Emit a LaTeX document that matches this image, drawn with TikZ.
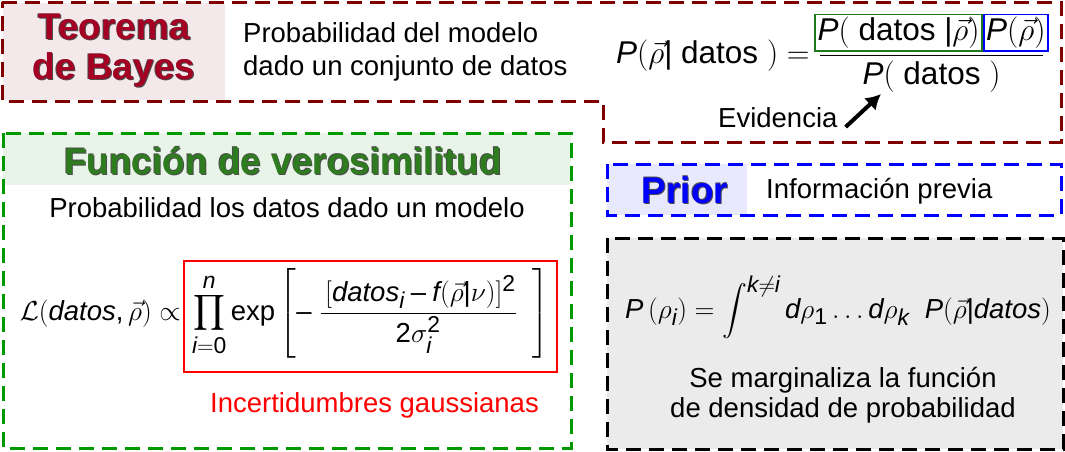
\RequirePackage{fix-cm}
\documentclass[tikz,border=0pt]{standalone}
\usepackage{fontspec}
\setmainfont{Liberation Sans}
\usepackage{amsmath}
\usepackage[italic]{mathastext}
\usepackage{xcolor}
\usepackage{tikz}
\usetikzlibrary{positioning, arrows.meta}

\definecolor{bayesred}{RGB}{128,0,0}
\definecolor{bayestitle}{RGB}{165,0,35}
\definecolor{bayesfill}{RGB}{244,233,234}
\definecolor{likegreen}{RGB}{0,153,0}
\definecolor{liketitle}{RGB}{45,125,30}
\definecolor{likefill}{RGB}{233,244,233}
\definecolor{numgreen}{RGB}{30,120,30}
\definecolor{priorblue}{RGB}{0,0,255}
\definecolor{priorfill}{RGB}{232,232,255}
\definecolor{margfill}{RGB}{235,235,235}

\newcommand{\edged}[1]{\leavevmode
  \rlap{\textcolor{black!70}{\kern-.6pt\raisebox{.6pt}{#1}}}%
  \rlap{\textcolor{black!70}{\kern1pt\raisebox{-1pt}{#1}}}%
  #1}
\newcommand{\dg}[1]{\text{#1}}

\setlength{\fboxsep}{1.5pt}
\setlength{\fboxrule}{1.8pt}

\tikzset{
  dashbox/.style={line width=3pt, dash pattern=on 15pt off 8pt},
  bodytext/.style={font=\fontsize{27.5}{33}\selectfont, inner sep=0pt},
  titletext/.style={font=\fontsize{37}{40}\selectfont\bfseries, inner sep=0pt},
  mathtext/.style={font=\fontsize{27.5}{33}\selectfont, inner sep=0pt},
  redbox/.style={draw=red, line width=2pt, inner xsep=8pt, inner ysep=9pt, text height=50pt, text depth=43pt},
  evarrow/.style={line width=4pt, -{Latex[length=15pt, width=17pt]}}
}

\begin{document}
\begin{tikzpicture}[x=1pt, y=-1pt]
        \useasboundingbox (0,0) rectangle (1065,451);

        \fill[bayesfill] (3,3) rectangle (225,100);
        \draw[bayesred, dashbox] (2,2) -- (1061,2) -- (1061,142) -- (603,142) -- (603,101) -- (2,101) -- cycle;
        \node[titletext, text=bayestitle, align=center] (bayes) at (114,51) {\edged{Teorema}\\\edged{de Bayes}};
        \node[bodytext, align=left, anchor=north west] (bayesdef) at (243,22) {Probabilidad del modelo\\dado un conjunto de datos};
        \node[mathtext, font=\fontsize{31.5}{38}\selectfont, anchor=base west] (bayeseq) at (616,63)
            {$P(\vec{\rho}|\text{ datos }) = \dfrac{\!\fcolorbox{numgreen}{white}{$P(\text{ datos }|\vec{\rho})$}\fcolorbox{priorblue}{white}{$P(\vec{\rho})$}\!}{P(\text{ datos })}$};
        \node[bodytext, anchor=base west] (evid) at (718,127) {Evidencia};
        \coordinate (evtip) at (881,94);
        \draw[evarrow] ([xshift=8pt]evid.base east) -- (evtip);

        \fill[likefill] (3,133) rectangle (571,185);
        \draw[likegreen, dashbox] (3,133) rectangle (571,448);
        \node[titletext, text=liketitle, anchor=base] (liketitle) at (283,174) {\edged{Función de verosimilitud}};
        \node[bodytext, anchor=base] (likedef) at (287,217) {Probabilidad los datos dado un modelo};
        \node[mathtext, redbox, anchor=base west] (prod) at (183,320)
            {$\displaystyle\prod_{i=\dg{0}}^{n}\exp\left[-\;\frac{\,[datos_i - f(\vec{\rho}|\nu)]^{\dg{2}}}{\dg{2}\sigma_i^{\dg{2}}}\;\;\right]$};
        \node[mathtext, anchor=base east] (lik) at ([xshift=-2pt]prod.base west) {$\mathcal{L}(datos,\vec{\rho})\propto$};
        \node[bodytext, text=red, anchor=base west] (gauss) at (210,412) {Incertidumbres gaussianas};

        \fill[priorfill] (607,164) rectangle (747,215);
        \draw[priorblue, dashbox] (607,164) rectangle (1061,215);
        \node[titletext, text=priorblue, anchor=base] (prior) at (685,203) {\edged{Prior}};
        \node[bodytext, anchor=base west] (priordef) at (766,198) {Información previa};

        \fill[margfill] (607,238) rectangle (1063,449);
        \draw[black, dashbox] (607,238) rectangle (1063,449);
        \node[mathtext, anchor=base west] (marg) at (625,318)
            {$P\left(\rho_i\right) = \displaystyle\int^{k\neq i} d\rho_{\dg{1}}\ldots d\rho_k\ \ P(\vec{\rho}|datos)$};
        \node[bodytext, font=\fontsize{27.5}{30}\selectfont, align=center, anchor=base] (margdef) at (843,417)
            {Se marginaliza la función\\de densidad de probabilidad};
\end{tikzpicture}
\end{document}
